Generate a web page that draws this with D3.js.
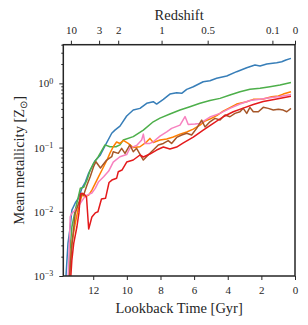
<!DOCTYPE html>
<html>
<head>
<meta charset="utf-8">
<script src="https://cdn.jsdelivr.net/npm/d3@7"></script>
<style>
  body { margin: 0; background: #fff; }
  text { font-family: "Liberation Serif", serif; fill: #262626; }
</style>
</head>
<body>
<svg id="chart" width="308" height="325"></svg>
<script>
// [lookback time (Gyr), mean metallicity (Z_sun)]
const seriesBlue = [[13.68,0.0003],[13.62,0.001],[13.50,0.00326],[13.37,0.0058],[13.27,0.0106],[13.07,0.0137],[12.87,0.0164],[12.67,0.0234],[12.47,0.029],[12.27,0.040],[12.08,0.0498],[11.90,0.062],[11.60,0.075],[11.30,0.106],[10.90,0.167],[10.71,0.187],[10.41,0.216],[10.01,0.310],[9.62,0.384],[9.22,0.408],[8.82,0.489],[8.43,0.518],[8.23,0.476],[7.83,0.564],[7.44,0.681],[7.04,0.714],[6.74,0.699],[6.44,0.807],[6.05,0.885],[5.46,1.06],[5.06,1.10],[4.66,1.20],[4.06,1.30],[3.47,1.52],[2.87,1.75],[2.38,1.93],[2.08,1.86],[1.68,2.00],[1.09,2.09],[0.79,2.17],[0.54,2.31],[0.24,2.45]];
const seriesGreen = [[13.56,0.0003],[13.38,0.00254],[13.27,0.0058],[13.07,0.0106],[12.97,0.0137],[12.77,0.0232],[12.57,0.0240],[12.37,0.0312],[12.18,0.0447],[11.98,0.0568],[11.70,0.072],[11.30,0.110],[11.01,0.103],[10.65,0.103],[10.41,0.110],[10.21,0.131],[9.62,0.148],[9.02,0.187],[8.43,0.252],[8.03,0.288],[7.44,0.333],[6.84,0.384],[6.25,0.432],[5.65,0.489],[5.06,0.540],[4.46,0.584],[3.87,0.658],[3.27,0.740],[2.68,0.807],[2.08,0.836],[1.49,0.885],[0.89,0.941],[0.24,1.03]];
const seriesOrange = [[13.50,0.0003],[13.41,0.001],[13.27,0.00326],[13.09,0.0062],[12.91,0.0106],[12.67,0.0182],[12.47,0.0172],[12.27,0.0182],[12.08,0.0218],[11.88,0.0277],[11.68,0.0352],[11.48,0.0447],[11.18,0.064],[11.01,0.0813],[10.81,0.103],[10.61,0.122],[10.41,0.116],[10.21,0.129],[9.92,0.116],[9.62,0.100],[9.22,0.103],[8.82,0.123],[8.63,0.139],[8.43,0.120],[8.03,0.131],[7.63,0.136],[7.24,0.146],[6.84,0.162],[6.44,0.175],[6.05,0.194],[5.65,0.224],[5.35,0.259],[5.06,0.278],[4.66,0.315],[4.27,0.370],[3.87,0.420],[3.47,0.476],[2.87,0.517],[2.48,0.564],[1.89,0.570],[1.39,0.618],[0.99,0.634],[0.70,0.681],[0.24,0.740]];
const seriesPink = [[13.56,0.0003],[13.44,0.00214],[13.37,0.00838],[13.27,0.0095],[13.07,0.0106],[12.77,0.0136],[12.57,0.0162],[12.37,0.0182],[12.08,0.0196],[11.88,0.0232],[11.68,0.0294],[11.38,0.0352],[11.08,0.0431],[10.81,0.0595],[10.41,0.072],[10.01,0.0778],[9.82,0.098],[9.42,0.108],[9.12,0.131],[9.02,0.162],[8.92,0.116],[8.63,0.116],[8.43,0.123],[8.03,0.151],[7.63,0.176],[7.34,0.199],[6.84,0.224],[6.54,0.304],[6.35,0.228],[5.95,0.232],[5.65,0.238],[5.06,0.299],[4.46,0.341],[3.87,0.408],[3.27,0.476],[2.68,0.540],[2.08,0.564],[1.49,0.597],[0.89,0.623],[0.24,0.669]];
const seriesBrown = [[13.50,0.0003],[13.41,0.001],[13.27,0.00303],[13.07,0.0095],[12.87,0.0136],[12.67,0.0194],[12.57,0.0182],[12.37,0.0261],[12.18,0.0352],[11.98,0.0503],[11.84,0.0601],[11.57,0.048],[11.20,0.064],[10.90,0.072],[10.81,0.0861],[10.51,0.0813],[10.31,0.0973],[10.11,0.0813],[9.82,0.110],[9.62,0.0861],[9.42,0.0973],[9.02,0.064],[8.73,0.0766],[8.43,0.0916],[8.13,0.110],[7.83,0.116],[7.54,0.128],[7.34,0.116],[7.04,0.144],[6.74,0.157],[6.44,0.167],[6.15,0.157],[5.85,0.199],[5.55,0.268],[5.35,0.209],[5.06,0.252],[4.76,0.285],[4.46,0.268],[4.16,0.321],[3.87,0.302],[3.57,0.341],[3.27,0.361],[3.08,0.408],[2.87,0.341],[2.68,0.423],[2.48,0.361],[2.18,0.361],[1.89,0.423],[1.59,0.408],[1.29,0.384],[0.99,0.394],[0.70,0.384],[0.49,0.361],[0.24,0.408]];
const seriesRed = [[13.38,0.0003],[13.33,0.001],[13.27,0.00177],[13.16,0.00323],[12.97,0.00585],[12.85,0.0096],[12.76,0.0189],[12.67,0.0194],[12.52,0.0186],[12.40,0.0170],[12.27,0.0054],[12.08,0.0083],[11.88,0.0096],[11.72,0.0100],[11.51,0.0158],[11.27,0.0162],[11.06,0.0286],[10.89,0.0312],[10.61,0.0332],[10.51,0.0421],[10.29,0.0447],[10.01,0.0595],[9.62,0.064],[9.22,0.0766],[9.02,0.0713],[8.63,0.0793],[8.23,0.0916],[7.83,0.102],[7.44,0.0948],[7.04,0.102],[6.64,0.118],[6.05,0.146],[5.46,0.187],[4.86,0.238],[4.27,0.302],[3.67,0.361],[3.08,0.412],[2.48,0.468],[1.89,0.521],[1.09,0.570],[0.24,0.628]];

const lookbackTicks = [12, 10, 8, 6, 4, 2, 0];
const redshiftTicks = [10, 3, 2, 1, 0.5, 0.1, 0];
const metalTicks = [1e-3, 1e-2, 1e-1, 1];

const lines = [
  { data: seriesBlue, color: '#377eb8' },
  { data: seriesGreen, color: '#4daf4a' },
  { data: seriesOrange, color: '#ff7f00' },
  { data: seriesPink, color: '#f781bf' },
  { data: seriesBrown, color: '#a65628' },
  { data: seriesRed, color: '#e41a1c' },
];

// flat LCDM lookback time, for placing the redshift ticks
const H0 = 67.74, Om = 0.3089;
function lookback(z) {
  const n = 2000, h = z / n;
  const f = (zz) => 1 / ((1 + zz) * Math.sqrt(Om * Math.pow(1 + zz, 3) + 1 - Om));
  let s = f(0) + f(z);
  for (let i = 1; i < n; i++) s += (i % 2 ? 4 : 2) * f(i * h);
  return (977.8 / H0) * s * h / 3;
}

const width = 308, height = 325;
const margin = { top: 44.7, right: 13, bottom: 49, left: 63.3 };

const svg = d3.select('#chart');

const x = d3.scaleLinear()
  .domain([13.78, 0])
  .range([margin.left, width - margin.right]);

const y = d3.scaleLog()
  .domain([1e-3, 4])
  .range([height - margin.bottom, margin.top]);

svg.append('clipPath').attr('id', 'plotclip')
  .append('rect')
  .attr('x', margin.left).attr('y', margin.top)
  .attr('width', width - margin.left - margin.right)
  .attr('height', height - margin.top - margin.bottom);

const line = d3.line().x((d) => x(d[0])).y((d) => y(d[1]));

svg.append('g')
  .attr('clip-path', 'url(#plotclip)')
  .selectAll('path')
  .data(lines)
  .join('path')
  .attr('d', (d) => line(d.data))
  .attr('fill', 'none')
  .attr('stroke', (d) => d.color)
  .attr('stroke-width', 1.5)
  .attr('stroke-linejoin', 'round');

function styleAxis(g) {
  g.select('.domain').remove();
  g.selectAll('.tick line').attr('stroke', '#262626').attr('stroke-width', 1);
  g.selectAll('.tick text').attr('font-size', 11).attr('fill', '#262626')
    .style('font-family', '"Liberation Serif", serif');
}

// bottom axis
svg.append('g')
  .attr('transform', `translate(0,${height - margin.bottom})`)
  .call(d3.axisBottom(x).tickValues(lookbackTicks).tickFormat(d3.format('d'))
    .tickSizeInner(4).tickSizeOuter(0).tickPadding(6))
  .call(styleAxis);

// top axis: redshift
svg.append('g')
  .attr('transform', `translate(0,${margin.top})`)
  .call(d3.axisTop(x)
    .tickValues(redshiftTicks.map(lookback))
    .tickFormat((d, i) => String(redshiftTicks[i]))
    .tickSizeInner(4).tickSizeOuter(0).tickPadding(7))
  .call(styleAxis);

// left axis, minor ticks
const minor = [];
[-3, -2, -1, 0].forEach((e) => {
  for (let k = 2; k <= 9; k++) {
    const v = k * Math.pow(10, e);
    if (v <= 4) minor.push(v);
  }
});
svg.append('g')
  .attr('transform', `translate(${margin.left},0)`)
  .call(d3.axisLeft(y).tickValues(minor).tickFormat('').tickSizeInner(2).tickSizeOuter(0))
  .call(styleAxis);

// left axis, major ticks with 10^n labels
const yAxis = svg.append('g')
  .attr('transform', `translate(${margin.left},0)`)
  .call(d3.axisLeft(y).tickValues(metalTicks).tickSizeInner(4).tickSizeOuter(0).tickPadding(6))
  .call(styleAxis);

yAxis.selectAll('.tick text').each(function (d) {
  const t = d3.select(this).text('');
  const e = Math.round(Math.log10(d));
  t.append('tspan').text('10');
  t.append('tspan').attr('dy', '-0.45em').attr('font-size', 8)
    .text(e < 0 ? '\u2212' + (-e) : String(e));
});

// frame
svg.append('rect')
  .attr('x', margin.left).attr('y', margin.top)
  .attr('width', width - margin.left - margin.right)
  .attr('height', height - margin.top - margin.bottom)
  .attr('fill', 'none')
  .attr('stroke', '#262626')
  .attr('stroke-width', 1.5);

// axis titles
const cx = (margin.left + width - margin.right) / 2;
svg.append('text')
  .attr('x', cx).attr('y', 313)
  .attr('text-anchor', 'middle')
  .attr('font-size', 14.5)
  .text('Lookback Time [Gyr]');

svg.append('text')
  .attr('x', cx).attr('y', 20)
  .attr('text-anchor', 'middle')
  .attr('font-size', 14.5)
  .text('Redshift');

const ylab = svg.append('text')
  .attr('transform', `translate(24,${(margin.top + height - margin.bottom) / 2}) rotate(-90)`)
  .attr('text-anchor', 'middle')
  .attr('font-size', 14.5);
ylab.append('tspan').text('Mean metallicity [Z');
ylab.append('tspan').attr('font-size', 10).attr('dy', 3).text('\u2299');
ylab.append('tspan').attr('dy', -3).text(']');
</script>
</body>
</html>
